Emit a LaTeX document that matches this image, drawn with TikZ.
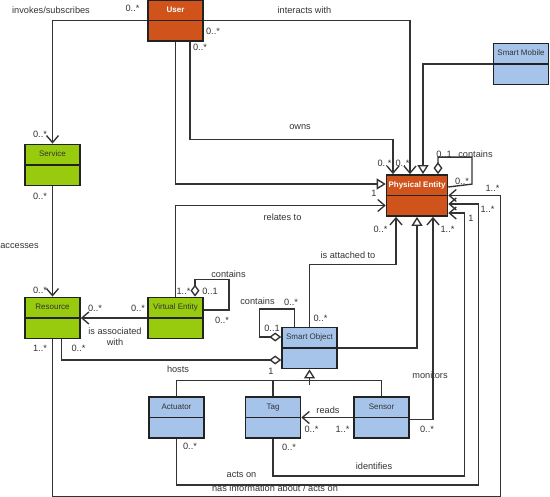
\documentclass[tikz,border=0pt]{standalone}
\usepackage{fontspec}
\setmainfont{Liberation Sans}
\usetikzlibrary{positioning,arrows.meta,shapes.multipart}

\definecolor{pecol}{RGB}{208,83,28}
\definecolor{rescol}{RGB}{152,202,14}
\definecolor{devcol}{RGB}{166,196,234}
\definecolor{ink}{RGB}{51,51,51}
\definecolor{rim}{RGB}{34,34,34}

\begin{document}
\begin{tikzpicture}[x=1pt,y=-1pt,on grid,line width=1.35pt,color=ink,
    cls/.style={rectangle split,rectangle split parts=2,draw=rim,line width=1.6pt,fill=#1,
      minimum width=55pt,inner xsep=2pt,inner ysep=5.5pt,text height=6pt,text depth=2pt,
      rectangle split empty part height=6pt,rectangle split empty part depth=2pt,
      font=\fontsize{8}{9}\selectfont},
    hot/.style={cls=pecol,text=white,font=\fontsize{8}{9}\selectfont\bfseries},
    lbl/.style={inner sep=0pt,font=\fontsize{9.2}{11}\selectfont},
    assoc/.style={-{Straight Barb[length=7pt,width=12pt]}},
    gen/.style={-{Triangle[length=9pt,width=11pt,fill=white]}},
    aggr/.style={{Diamond[length=12pt,width=9pt,fill=white]}-},
    aggrto/.style={-{Diamond[length=12pt,width=9pt,fill=white]}}]
   \useasboundingbox (0,0) rectangle (550,497);
   \node[hot] (user) at (175.5,20.5) {User};
   \node[cls=rescol] (service) [below left=144.5pt and 123pt of user] {Service};
   \node[cls=rescol] (resource) [below=153pt of service] {Resource};
   \node[cls=rescol] (ve) [right=123pt of resource] {Virtual Entity};
   \node[hot] (pe) [minimum width=60pt,below right=175pt and 241.5pt of user] {Physical Entity};
   \node[cls=devcol] (mobile) [above right=131.5pt and 104pt of pe] {Smart Mobile};
   \node[cls=devcol] (so) [below right=30pt and 134pt of ve] {Smart Object};
   \node[cls=devcol] (tag) [below left=69.5pt and 36.5pt of so] {Tag};
   \node[cls=devcol] (actuator) [left=96.5pt of tag] {Actuator};
   \node[cls=devcol] (sensor) [right=108.5pt of tag] {Sensor};

   \draw[assoc] (user.west) -| (service.north);
   \draw[assoc] (user.east) -| ([xshift=-7pt]pe.north);
   \draw[assoc] ([xshift=14.5pt]user.south) -- ++(0,97.5) -| ([xshift=-24pt]pe.north);
   \draw[gen] (user.south) |- ([yshift=11.5pt]pe.west);
   \draw[gen] (mobile.west) -| ([xshift=6pt]pe.north);
   \draw[aggr] ([xshift=21pt]pe.north) -- ++(0,-17) -| ++(34,27) -- ([yshift=8.5pt]pe.east);
   \draw[assoc] (service.south) -- (resource.north);
   \draw[assoc] (ve.west) -- (resource.east);
   \draw[assoc] (ve.north) |- ([yshift=-10pt]pe.west);
   \draw[aggr] ([xshift=19.5pt]ve.north) |- ++(34,-17) |- ([yshift=8pt]ve.east);
   \draw[assoc] (so.north) -- ++(0,-62) -| ([xshift=-21pt]pe.south);
   \draw[gen] (so.east) -| (pe.south);
   \draw[aggr] ([yshift=11pt]so.west) -| ++(-22,-28) -| ([xshift=-15pt]so.north);
   \draw[aggrto] ([xshift=9pt]resource.south) |- ([yshift=-12pt]so.west);
   \draw[assoc] (resource.south) |- ++(448,157.6) |- (pe.east);
   \draw[assoc] (actuator.south) |- ++(302,46) |- ([yshift=-8.5pt]pe.east);
   \draw[assoc] (tag.south) |- ++(191.5,37) |- ([yshift=-17.5pt]pe.east);
   \draw[assoc] ([yshift=-2pt]sensor.east) -| ([xshift=16pt]pe.south);
   \draw[assoc] (sensor.west) -- (sensor.west -| tag.east);
   \draw (actuator.north) -- ++(0,-15.5) -| (sensor.north);
   \draw (tag.north) -- ++(0,-15.5);
   \draw[gen] (so.south) ++(0,16) -- (so.south);

   \node[lbl] (inv) at (51,10) {invokes/subscribes};
   \node[lbl] (inv-a) at (132.5,8) {0..*};
   \node[lbl] (inv-b) at (40,134) {0..*};
   \node[lbl] (int) at (304.5,10.5) {interacts with};
   \node[lbl] (int-a) at (213,31) {0..*};
   \node[lbl] (int-b) at (402.5,163) {0..*};
   \node[lbl] (own) at (300,127) {owns};
   \node[lbl] (own-a) at (200,47) {0..*};
   \node[lbl] (own-b) at (384.5,163) {0..*};
   \node[lbl] (pec-a) at (444,154) {0..1};
   \node[lbl] (pec) at (475.5,154) {contains};
   \node[lbl] (pec-b) at (462,181.5) {0..*};
   \node[lbl] (acc) at (19.5,246) {accesses};
   \node[lbl] (acc-a) at (40,196) {0..*};
   \node[lbl] (acc-b) at (40,290) {0..*};
   \node[lbl] (rel) at (282.5,217) {relates to};
   \node[lbl] (rel-a) at (374,193) {1};
   \node[lbl] (rel-b) at (183.5,291.5) {1..*};
   \node[lbl] (vec) at (228.5,274) {contains};
   \node[lbl] (vec-a) at (210,291.5) {0..1};
   \node[lbl] (vec-b) at (222,320) {0..*};
   \node[lbl,align=center] (ass) at (115,336.5) {is associated\\with};
   \node[lbl] (ass-a) at (95,308) {0..*};
   \node[lbl] (ass-b) at (138,308) {0..*};
   \node[lbl] (att) at (348,255.5) {is attached to};
   \node[lbl] (att-a) at (380.5,229) {0..*};
   \node[lbl] (att-b) at (320.5,318) {0..*};
   \node[lbl] (soc) at (257.5,301) {contains};
   \node[lbl] (soc-a) at (272,328) {0..1};
   \node[lbl] (soc-b) at (291,302) {0..*};
   \node[lbl] (hst) at (178,369) {hosts};
   \node[lbl] (hst-a) at (78.5,348) {0..*};
   \node[lbl] (hst-b) at (271,371) {1};
   \node[lbl] (inf) at (275,488.6) {has information about / acts on};
   \node[lbl] (inf-a) at (40,348) {1..*};
   \node[lbl] (inf-b) at (492.5,188) {1..*};
   \node[lbl] (act) at (241.5,474.5) {acts on};
   \node[lbl] (act-a) at (190,446) {0..*};
   \node[lbl] (act-b) at (487.5,209) {1..*};
   \node[lbl] (idf) at (374,466) {identifies};
   \node[lbl] (idf-a) at (289,447) {0..*};
   \node[lbl] (idf-b) at (471,218) {1};
   \node[lbl] (mon) at (430,375) {monitors};
   \node[lbl] (mon-a) at (427,429) {0..*};
   \node[lbl] (mon-b) at (447.5,229) {1..*};
   \node[lbl] (rds) at (328,410) {reads};
   \node[lbl] (rds-a) at (311.5,429) {0..*};
   \node[lbl] (rds-b) at (342.5,429) {1..*};
\end{tikzpicture}
\end{document}
